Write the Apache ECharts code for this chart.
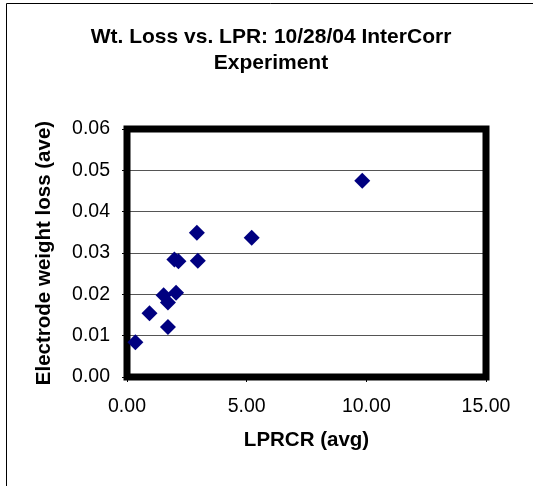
<!DOCTYPE html>
<html>
<head>
<meta charset="utf-8">
<script src="https://cdn.jsdelivr.net/npm/echarts@6/dist/echarts.min.js"></script>
<style>
html, body { margin:0; padding:0; background:#fff; }
#chart { width:533px; height:486px; }
</style>
</head>
<body>
<div id="chart"></div>
<script>
// LPRCR (avg) vs electrode weight loss
var lprcr = [0.35, 0.94, 1.71, 1.53, 1.71, 2.05, 1.98, 2.15, 2.96, 2.92, 5.21, 9.83];
var weightLoss = [0.0084, 0.0154, 0.0121, 0.0198, 0.0180, 0.0204, 0.0284, 0.0280, 0.0281, 0.0349, 0.0337, 0.0475];
var xTicks = [0, 5, 10, 15];
var yTicks = [0, 0.01, 0.02, 0.03, 0.04, 0.05, 0.06];

var points = lprcr.map(function (x, i) { return [x, weightLoss[i]]; });
var font = "'Liberation Sans', Arial, sans-serif";

var chart = echarts.init(document.getElementById("chart"));
chart.setOption({
    animation: false,
    backgroundColor: "#fff",
    title: {
        text: "Wt. Loss vs. LPR: 10/28/04 InterCorr\nExperiment",
        left: 266,
        top: 19,
        textAlign: "center",
        textStyle: { fontFamily: font, fontSize: 21, fontWeight: "bold", color: "#000", lineHeight: 26 }
    },
    // outer chart frame (only top/left edges fall inside the picture)
    graphic: [{
        type: "rect",
        shape: { x: 6.5, y: 3.5, width: 600, height: 600 },
        style: { fill: null, stroke: "#000", lineWidth: 1 },
        silent: true
    }],
    grid: {
        left: 127, right: 47, top: 129, bottom: 109,
        show: true,
        borderColor: "#000",
        borderWidth: 7,
        z: 3
    },
    xAxis: {
        type: "value",
        min: xTicks[0],
        max: xTicks[xTicks.length - 1],
        interval: 5,
        name: "LPRCR (avg)",
        nameLocation: "middle",
        nameGap: 53,
        nameTextStyle: { fontFamily: font, fontSize: 20.5, fontWeight: "bold", color: "#000" },
        axisLine: { show: false },
        axisTick: { show: true, inside: false, length: 5, lineStyle: { color: "#000" } },
        axisLabel: {
            fontFamily: font, fontSize: 19.5, color: "#000", margin: 20,
            formatter: function (v) { return v.toFixed(2); }
        },
        splitLine: { show: false }
    },
    yAxis: {
        type: "value",
        min: yTicks[0],
        max: yTicks[yTicks.length - 1],
        interval: 0.01,
        name: "Electrode weight loss (ave)",
        nameLocation: "middle",
        nameGap: 72,
        nameTextStyle: { fontFamily: font, fontSize: 20.5, fontWeight: "bold", color: "#000" },
        axisLine: { show: false },
        axisTick: { show: true, inside: false, length: 5, lineStyle: { color: "#000" } },
        axisLabel: {
            fontFamily: font, fontSize: 19.5, color: "#000", margin: 17,
            formatter: function (v) { return v.toFixed(2); }
        },
        splitLine: { show: true, lineStyle: { color: "#555", width: 1 } }
    },
    series: [{
        type: "scatter",
        symbol: "diamond",
        symbolSize: 16,
        itemStyle: { color: "#000080", opacity: 1 },
        data: points,
        z: 4
    }]
});
</script>
</body>
</html>
